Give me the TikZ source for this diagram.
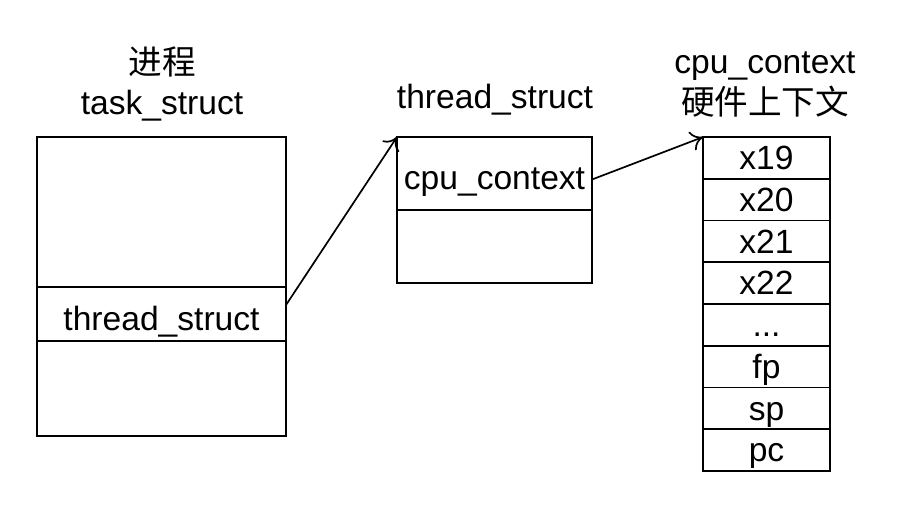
\documentclass[tikz,border=0pt]{standalone}
\usepackage{fontspec}
\setmainfont{Liberation Sans}
\newfontfamily\cjk{Noto Sans CJK SC}
\usetikzlibrary{positioning, arrows.meta}
\newcommand\regdots{...}

\begin{document}
\begin{tikzpicture}[x=0.5pt, y=0.5pt,
  every node/.style = {font=\fontsize{16.8}{20}\selectfont, inner sep=0pt},
  part/.style = {shape=rectangle, draw, line width=0.85pt, outer sep=0pt,
    text height=16pt, text depth=0pt},
  reg/.style = {part, minimum width=63.5pt, minimum height=20.875pt,
    text height=15.2pt, text depth=3.6pt},
  link/.style = {-{To[length=6pt, width=10pt]}, line width=0.85pt}]
  \useasboundingbox (0,0) rectangle (916,516);
  % task_struct
  \node at (162,454) (proclabel) {\cjk 进程};
  \node at (162,410) (tasklabel) {task\_struct};
  \node[part, minimum width=124.5pt, minimum height=75pt] at (161.5,304) (tasktop) {};
  \node[part, minimum width=124.5pt, minimum height=27pt, below=0pt of tasktop] (thread) {thread\_struct};
  \node[part, minimum width=124.5pt, minimum height=47.5pt, below=0pt of thread] (taskbot) {};
  % thread_struct
  \node at (495,416) (threadlabel) {thread\_struct};
  \node[part, minimum width=97.5pt, minimum height=36.5pt] at (494.5,342.5) (cpu) {cpu\_context};
  \node[part, minimum width=97.5pt, minimum height=36.5pt, below=0pt of cpu] (threadbot) {};
  % cpu_context
  \node at (765,450) (ctxlabel) {cpu\_context};
  \node at (765,414) (hwlabel) {\cjk 硬件上下文};
  \node[reg] at (766.5,358.1) (reg1) {x19};
  \foreach \name [count=\i from 2, remember=\i as \j (initially 1)] in {x20,x21,x22,\regdots,fp,sp,pc}
    \node[reg, below=0pt of reg\j] (reg\i) {\name};
  % links
  \draw[link] ([yshift=4.5pt]thread.east) -- (cpu.north west);
  \draw[link] ([yshift=-3pt]cpu.east) -- (reg1.north west);
\end{tikzpicture}
\end{document}
